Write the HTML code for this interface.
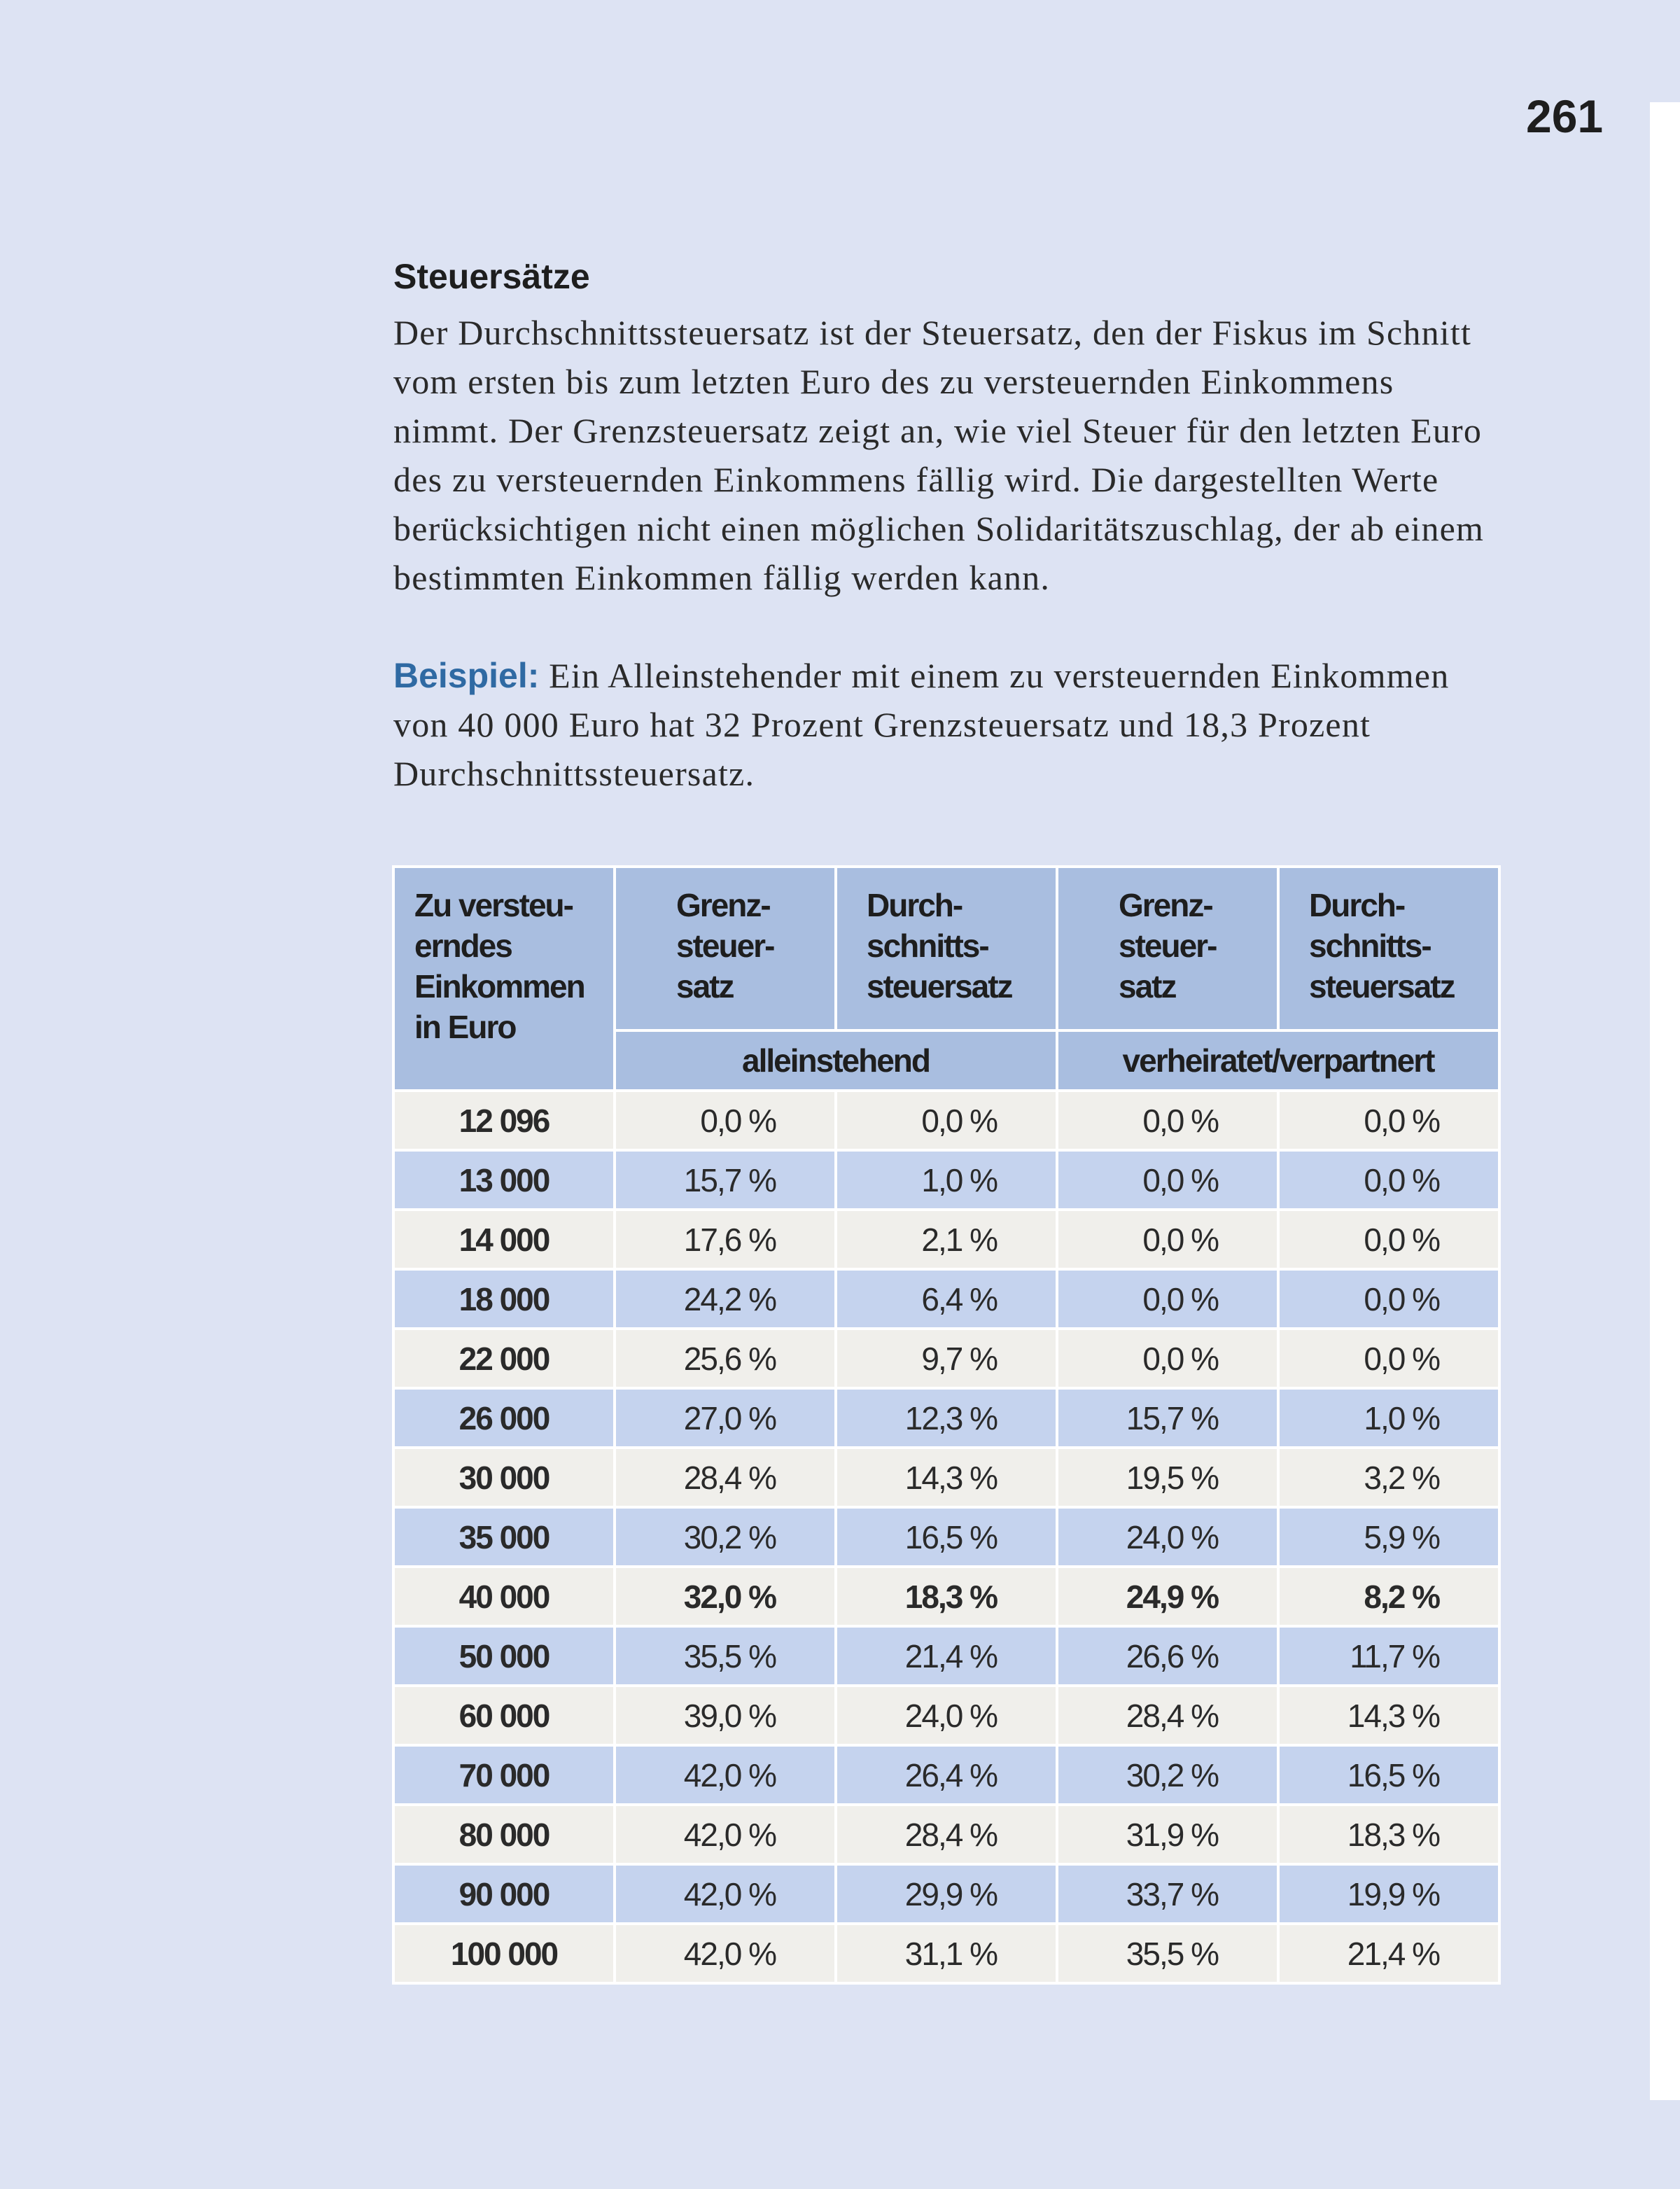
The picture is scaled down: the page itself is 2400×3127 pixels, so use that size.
<!DOCTYPE html>
<html><head><meta charset="utf-8"><style>
*{margin:0;padding:0;box-sizing:border-box}
body{width:2400px;height:3127px;background:#dde3f3;position:relative;overflow:hidden;font-family:"Liberation Sans",sans-serif;color:#222}
.strip{position:absolute;left:2357px;top:146px;width:43px;height:2854px;background:#fff}
.pg{position:absolute;left:2180px;top:128px;font-size:66px;font-weight:bold;color:#1e1e1e}
h1{position:absolute;left:562px;top:366px;font-size:50px;font-weight:bold;color:#1e1e1e}
.txt{position:absolute;left:562px;width:1700px;font-family:"Liberation Serif",serif;font-size:50px;letter-spacing:1.2px;line-height:70px;color:#2a2a2a}
.b{color:#2f6aa3;font-family:"Liberation Sans",sans-serif;font-weight:bold;letter-spacing:0}
table{position:absolute;left:560px;top:1236px;border-collapse:collapse;font-family:"Liberation Sans",sans-serif;font-size:46px;letter-spacing:-2px;color:#2a2a2a}
td{border:4px solid #fff;height:85px;padding:0}
.h{background:#a9bee0;font-weight:bold;color:#1e1e1e;vertical-align:top;line-height:58px}
.r0 td{background:#f0efeb}
.r1 td{background:#c5d3ee}
.n{text-align:center;font-weight:bold}
.v{text-align:right;padding-right:84px}
.bold td{font-weight:bold}
</style></head><body>
<div class="strip"></div>
<div class="pg">261</div>
<h1>Steuersätze</h1>
<div class="txt" style="top:440px">Der Durchschnittssteuersatz ist der Steuersatz, den der Fiskus im Schnitt<br>vom ersten bis zum letzten Euro des zu versteuernden Einkommens<br>nimmt. Der Grenzsteuersatz zeigt an, wie viel Steuer für den letzten Euro<br>des zu versteuernden Einkommens fällig wird. Die dargestellten Werte<br>berücksichtigen nicht einen möglichen Solidaritätszuschlag, der ab einem<br>bestimmten Einkommen fällig werden kann.</div>
<div class="txt" style="top:930px"><span class="b">Beispiel:</span> Ein Alleinstehender mit einem zu versteuernden Einkommen<br>von 40 000 Euro hat 32 Prozent Grenzsteuersatz und 18,3 Prozent<br>Durchschnittssteuersatz.</div>
<table>
<tr><td class="h" rowspan="2" style="width:316px;height:320px;padding:24px 0 0 28px">Zu versteu-<br>erndes<br>Einkommen<br>in Euro</td>
<td class="h" style="width:316px;height:234px;padding:24px 0 0 86px">Grenz-<br>steuer-<br>satz</td>
<td class="h" style="width:316px;padding:24px 0 0 42px">Durch-<br>schnitts-<br>steuersatz</td>
<td class="h" style="width:316px;padding:24px 0 0 86px">Grenz-<br>steuer-<br>satz</td>
<td class="h" style="width:316px;padding:24px 0 0 42px">Durch-<br>schnitts-<br>steuersatz</td></tr>
<tr><td class="h" colspan="2" style="height:86px;text-align:center;vertical-align:middle">alleinstehend</td><td class="h" colspan="2" style="text-align:center;vertical-align:middle">verheiratet/verpartnert</td></tr>
<tr class="r0"><td class="n">12 096</td><td class="v">0,0 %</td><td class="v">0,0 %</td><td class="v">0,0 %</td><td class="v">0,0 %</td></tr>
<tr class="r1"><td class="n">13 000</td><td class="v">15,7 %</td><td class="v">1,0 %</td><td class="v">0,0 %</td><td class="v">0,0 %</td></tr>
<tr class="r0"><td class="n">14 000</td><td class="v">17,6 %</td><td class="v">2,1 %</td><td class="v">0,0 %</td><td class="v">0,0 %</td></tr>
<tr class="r1"><td class="n">18 000</td><td class="v">24,2 %</td><td class="v">6,4 %</td><td class="v">0,0 %</td><td class="v">0,0 %</td></tr>
<tr class="r0"><td class="n">22 000</td><td class="v">25,6 %</td><td class="v">9,7 %</td><td class="v">0,0 %</td><td class="v">0,0 %</td></tr>
<tr class="r1"><td class="n">26 000</td><td class="v">27,0 %</td><td class="v">12,3 %</td><td class="v">15,7 %</td><td class="v">1,0 %</td></tr>
<tr class="r0"><td class="n">30 000</td><td class="v">28,4 %</td><td class="v">14,3 %</td><td class="v">19,5 %</td><td class="v">3,2 %</td></tr>
<tr class="r1"><td class="n">35 000</td><td class="v">30,2 %</td><td class="v">16,5 %</td><td class="v">24,0 %</td><td class="v">5,9 %</td></tr>
<tr class="r0 bold"><td class="n">40 000</td><td class="v">32,0 %</td><td class="v">18,3 %</td><td class="v">24,9 %</td><td class="v">8,2 %</td></tr>
<tr class="r1"><td class="n">50 000</td><td class="v">35,5 %</td><td class="v">21,4 %</td><td class="v">26,6 %</td><td class="v">11,7 %</td></tr>
<tr class="r0"><td class="n">60 000</td><td class="v">39,0 %</td><td class="v">24,0 %</td><td class="v">28,4 %</td><td class="v">14,3 %</td></tr>
<tr class="r1"><td class="n">70 000</td><td class="v">42,0 %</td><td class="v">26,4 %</td><td class="v">30,2 %</td><td class="v">16,5 %</td></tr>
<tr class="r0"><td class="n">80 000</td><td class="v">42,0 %</td><td class="v">28,4 %</td><td class="v">31,9 %</td><td class="v">18,3 %</td></tr>
<tr class="r1"><td class="n">90 000</td><td class="v">42,0 %</td><td class="v">29,9 %</td><td class="v">33,7 %</td><td class="v">19,9 %</td></tr>
<tr class="r0"><td class="n">100 000</td><td class="v">42,0 %</td><td class="v">31,1 %</td><td class="v">35,5 %</td><td class="v">21,4 %</td></tr>
</table>
</body></html>
